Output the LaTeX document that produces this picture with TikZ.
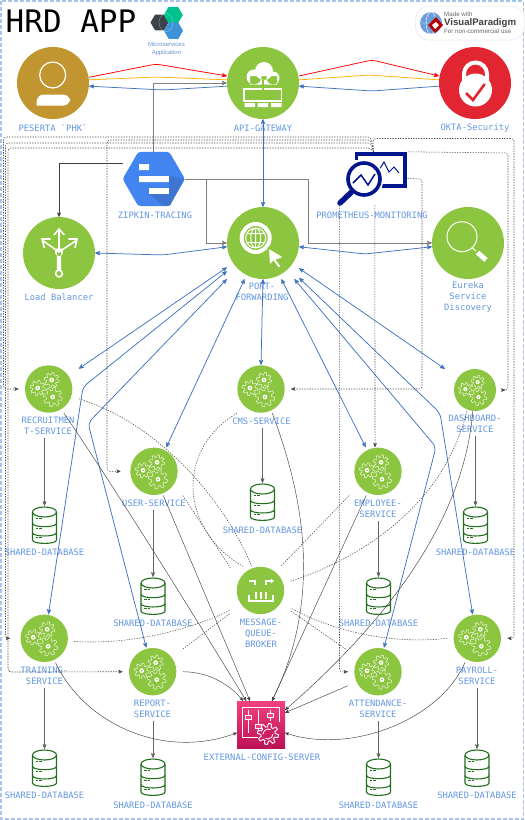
\documentclass[tikz,border=0pt]{standalone}
\usepackage{fontspec}
\setmainfont{Liberation Sans}
\setmonofont{DejaVu Sans Mono}
\usepackage{tikz}
\usetikzlibrary{arrows,positioning,shapes.geometric}
\definecolor{appgreen}{HTML}{8CC53F}
\definecolor{phkgold}{HTML}{C1952F}
\definecolor{oktared}{HTML}{E12632}
\definecolor{zipblue}{HTML}{4285F0}
\definecolor{zipdark}{HTML}{3F74D0}
\definecolor{promnavy}{HTML}{02148E}
\definecolor{labelblue}{HTML}{6296E2}
\definecolor{pilblue}{HTML}{4073C0}
\definecolor{dbgreen}{HTML}{236F1E}
\definecolor{cfgtop}{HTML}{F3417F}
\definecolor{cfgbot}{HTML}{BC1256}
\definecolor{pageedge}{HTML}{A6C4EE}
\tikzset{
    %Define standard arrow tip
    >=stealth',
    %Define style for icon nodes
    bigdisc/.style={
           rectangle,
           inner sep=0pt,
           minimum size=72pt,
           path picture={\fill[#1] (path picture bounding box.center) circle (36pt);}},
    svc/.style={
           rectangle,
           inner sep=0pt,
           minimum width=60pt,
           minimum height=48pt,
           path picture={\fill[appgreen] (path picture bounding box.center) circle (23.7pt);}},
    svcsmall/.style={
           svc,
           minimum height=42pt,
           path picture={\fill[appgreen] (path picture bounding box.center) circle (21pt);}},
    dbnode/.style={
           rectangle,
           inner sep=0pt,
           minimum width=26pt,
           minimum height=38pt},
    lab/.style={
           font=\ttfamily\fontsize{8.8}{11}\selectfont,
           text=labelblue,
           align=center,
           inner sep=3pt},
    % Define arrow styles
    bluepil/.style={<->,draw=pilblue,line width=.75pt,rounded corners=5pt},
    darkpil/.style={->,draw=black!75,line width=.45pt},
    dbpil/.style={->,draw=black!60,line width=.7pt},
    dotpil/.style={draw=black!70,line width=.55pt,dash pattern=on 1.3pt off 1.3pt},
    zippil/.style={->,draw=black!50,line width=.8pt},
    %Define icon pics
    gearicon/.pic={
        \foreach \gx/\gy/\gr in {-11/-1/7.6,3/-9/7.6,4/8/9.6}{
            \draw[white,line width=.4pt,shift={(\gx,\gy)}] plot[domain=0:360,samples=97,variable=\t]
                (\t:{\gr*(.84+.16*sign(sin(8*\t)))});
            \fill[white,shift={(\gx,\gy)}] (0,0) circle (2.4);
            \fill[appgreen,shift={(\gx,\gy)}] (0,0) circle (.9);
        }
    },
    dbicon/.pic={
        \draw[dbgreen,line width=1.1pt] (0,-13) ellipse (12 and 5);
        \draw[dbgreen,line width=1.1pt] (-12,-13) -- (-12,15) .. controls (-12,19.5) and (12,19.5) .. (12,15) -- (12,-13);
        \foreach \sy in {-1.7,7.6}
            \draw[dbgreen,line width=1.1pt] (-12,\sy) .. controls (-12,\sy+4.5) and (12,\sy+4.5) .. (12,\sy);
        \foreach \sy in {-6.7,3,12.7}
            \draw[dbgreen,line width=1pt,dash pattern=on 2.6pt off 1pt] (-9,\sy) -- (-2.5,\sy);
    }
}
\begin{document}
\begin{tikzpicture}[x=1pt,y=-1pt]
\useasboundingbox (0,0) rectangle (525,820);
\draw[pageedge,line width=1.1pt,dash pattern=on 4pt off 2pt] (1,1) rectangle (523.5,819);

 %title and badges
\node[font=\ttfamily\fontsize{31}{31}\selectfont,inner sep=0pt] (title) at (71,21) {HRD APP};
\node[regular polygon,regular polygon sides=6,minimum size=18pt,inner sep=0pt,fill=black!70!cyan!60!black] (hexdark) at (159.5,22.5) {};
\node[regular polygon,regular polygon sides=6,minimum size=19pt,inner sep=0pt,fill=teal!60!cyan!80!green] (hexteal) at (173.3,15) {};
\node[regular polygon,regular polygon sides=6,minimum size=19pt,inner sep=0pt,fill=cyan!65!blue!80] (hexblue) at (173.5,30.7) {};
\draw[white,opacity=.5,line width=.3pt] (166,22.5) ellipse (7 and 9);
\node[font=\fontsize{6}{8}\selectfont,text=labelblue!80!gray,align=center,inner sep=0pt] (msapp) at (166.5,49) {Microservices\\Application};

\node[rectangle,rounded corners=14pt,draw=black!6,line width=1pt,fill=white,minimum width=109pt,minimum height=34pt] (vpbadge) at (470,23) {};
\fill[cyan!55!blue!60] (431,23) circle (11);
\draw[white,line width=.4pt] (431,23) ellipse (5 and 11) (420,23) -- (442,23);
\fill[red!70!black] (436,17) -- (443,25) -- (435,33) -- (428,25) -- cycle;
\fill[white] (436,22) -- (439,25) -- (435,29) -- (432,25) -- cycle;
\node[font=\fontsize{6.2}{7}\selectfont,text=black!60,anchor=west,inner sep=0pt] (vpmade) at (444,14.5) {Made with};
\node[font=\bfseries\fontsize{9.6}{11}\selectfont,text=black!75,anchor=west,inner sep=0pt] (vpname) at (444,22.7) {VisualParadigm};
\node[font=\fontsize{6.2}{7}\selectfont,text=black!60,anchor=west,inner sep=0pt] (vpuse) at (444,31) {For non-commercial use};

 %nodes
\node[bigdisc=phkgold] (peserta) at (53,83) {};
\node[bigdisc=appgreen] (gateway) at (263,83) {};
\node[bigdisc=oktared] (okta) at (475,83) {};
\node[regular polygon,regular polygon sides=6,minimum size=62.4pt,inner sep=0pt,rounded corners=2.5pt,fill=zipblue] (zipkin) at (153.8,179) {};
\node[rectangle,inner sep=0pt,minimum width=68pt,minimum height=53pt] (prom) at (373.5,178.5) {};
\node[bigdisc=appgreen] (balancer) at (59,253) {};
\node[bigdisc=appgreen] (port) at (263,243) {};
\node[bigdisc=appgreen] (eureka) at (468,243) {};

\node[svc] (recruit) at (48.7,389) {};
\node[svc] (cms) at (261,389) {};
\node[svcsmall] (dashboard) at (475,390) {};
\node[svc] (user) at (154,471.3) {};
\node[svc] (employee) at (378,471.3) {};
\node[svc] (broker) at (260.5,590.5) {};
\node[svc] (training) at (44.2,638.3) {};
\node[svc] (report) at (152.7,671.7) {};
\node[svc] (attendance) at (378,671.7) {};
\node[svc] (payroll) at (477.3,638.3) {};
\node[rectangle,inner sep=0pt,minimum width=48pt,minimum height=47pt,top color=cfgtop,bottom color=cfgbot] (config) at (261,724.5) {};

\node[dbnode] (db1) at (44.5,525) {};
\node[dbnode] (db2) at (153,596) {};
\node[dbnode] (db3) at (262.5,502) {};
\node[dbnode] (db4) at (378.5,596) {};
\node[dbnode] (db5) at (475.5,525) {};
\node[dbnode] (db6) at (44.5,768) {};
\node[dbnode] (db7) at (153,777) {};
\node[dbnode] (db8) at (378.5,777) {};
\node[dbnode] (db9) at (477,768) {};
\foreach \d in {db1,db2,db3,db4,db5,db6,db7,db8,db9}
    \pic at (\d) {dbicon};
\foreach \s in {recruit,cms,user,employee,training,report,attendance,payroll}
    \pic at (\s) {gearicon};
\pic[scale=.88] at (dashboard) {gearicon};

 %labels
\node[lab] (pesertalab) at (53,128) {PESERTA `PHK`};
\node[lab] (gatewaylab) at (263,128) {API-GATEWAY};
\node[lab] (oktalab) at (475,128) {OKTA-Security};
\node[lab] (zipkinlab) at (155,215) {ZIPKIN-TRACING};
\node[lab] (promlab) at (372,215) {PROMETHEUS-MONITORING};
\node[lab] (balancerlab) at (59,297) {Load Balancer};
\node[lab] (portlab) at (262,292) {PORT-\\FORWARDING};
\node[lab] (eurekalab) at (468,297) {Eureka\\Service\\Discovery};
\node[lab] (recruitlab) at (48,426) {RECRUITMEN\\T-SERVICE};
\node[lab] (cmslab) at (261.5,421) {CMS-SERVICE};
\node[lab] (dashboardlab) at (475,424) {DASHBOARD-\\SERVICE};
\node[lab] (userlab) at (154,503) {USER-SERVICE};
\node[lab] (employeelab) at (378,509) {EMPLOYEE-\\SERVICE};
\node[lab] (brokerlab) at (261,633.5) {MESSAGE-\\QUEUE-\\BROKER};
\node[lab] (traininglab) at (44.5,675.5) {TRAINING-\\SERVICE};
\node[lab] (reportlab) at (152.5,708.5) {REPORT-\\SERVICE};
\node[lab] (attendancelab) at (378,708.5) {ATTENDANCE-\\SERVICE};
\node[lab] (payrolllab) at (477,675.5) {PAYROLL-\\SERVICE};
\node[lab] (configlab) at (262,757) {EXTERNAL-CONFIG-SERVER};
\node[lab] (dblab1) at (44.5,552) {SHARED-DATABASE};
\node[lab] (dblab2) at (153,623) {SHARED-DATABASE};
\node[lab] (dblab3) at (262.5,530) {SHARED-DATABASE};
\node[lab] (dblab4) at (378.5,623) {SHARED-DATABASE};
\node[lab] (dblab5) at (475.5,552) {SHARED-DATABASE};
\node[lab] (dblab6) at (44.5,795) {SHARED-DATABASE};
\node[lab] (dblab7) at (153,805) {SHARED-DATABASE};
\node[lab] (dblab8) at (378.5,805) {SHARED-DATABASE};
\node[lab] (dblab9) at (477,795) {SHARED-DATABASE};

 %icons
\draw[white,line width=1.2pt] (52.7,75) circle (13);
\fill[white,rounded corners=7pt] (36.7,105.7) -- (36.7,94.5) -- (70,94.5) -- (70,105.7) [sharp corners] -- cycle;

\fill[white] (254,77) circle (7.5) (264,71) circle (9) (273,78) circle (6.5) (250,76) rectangle (277,84.5);
\draw[white,line width=1.8pt] (244,89) rectangle (281.5,101);
\fill[white] (244.5,103) rectangle (255,107) (257.5,103) rectangle (268,107) (271,103) rectangle (281.5,107);
\draw[appgreen,line width=1.6pt] (263,80) -- (263,96) (257,90.5) -- (263,97) -- (269,90.5);

\draw[white,line width=4pt] (464,80) -- (464,74) arc (180:360:11.5) -- (487,80);
\fill[white] (475.5,90) circle (16.5);
\draw[oktared,line width=2.6pt] (466,93) -- (473,100) -- (484.7,84);

\fill[white] (139,164) rectangle (149,170) (139,176) rectangle (169,182) (149,188) rectangle (169,194);
\fill[zipdark] (169,182) -- (169,176) -- (184,179) -- (170,205.5) -- (163,205.5) -- (149,194) -- (169,194) -- cycle;

\draw[promnavy,line width=3.6pt] (356.5,160) -- (356.5,154) -- (405,154) -- (405,186) -- (382,186);
\draw[promnavy,line width=1pt] (379,170) -- (384,162) -- (389,172) -- (394,167) -- (399,173);
\draw[white,line width=5pt] (364,179) circle (17);
\draw[promnavy,line width=3.6pt] (364,179) circle (16);
\draw[promnavy,line width=1.5pt] (353,183) -- (361,175) -- (368,185) -- (375,174);
\draw[promnavy,line width=5.5pt,line cap=round] (351,192.5) -- (340,203);

\fill[white] (59,252) circle (4.2) (56.8,252) rectangle (61.2,270);
\draw[white,line width=1.6pt] (59,273.5) circle (3.4) (59,252) -- (59,229) (54,235) -- (59,229) -- (64.3,235)
    (59,252) -- (42,240) (50.7,239) -- (42,239) -- (44.3,248) (59,252) -- (77,240) (68.3,239) -- (77,239) -- (75,248);

\draw[white,line width=4pt] (255.7,238) circle (14);
\draw[white,line width=1pt] (255.7,238) circle (10) (255.7,238) ellipse (5 and 10) (255.7,228) -- (255.7,248)
    (246.5,233.5) -- (265,233.5) (246.5,242.5) -- (265,242.5);
\filldraw[fill=white,draw=appgreen,line width=1.4pt] (268.3,247.7) -- (284.3,257.3) -- (276.7,260) -- (281.7,266.7)
    -- (278.3,268.3) -- (273.3,261.7) -- (269.3,266) -- cycle;

\draw[white,line width=1pt] (462,236.7) circle (15);
\draw[white,line width=1pt] (472.5,248) -- (476,251);
\draw[white,line width=5pt] (477.5,252.5) -- (486,260);

\draw[white,line width=1.5pt] (249,581) -- (255,581) -- (255,585) (266,585) -- (266,581) -- (271,581)
    (249,595) -- (249,601) -- (273,601) -- (273,595);
\fill[white] (271,578.5) -- (274,581) -- (271,583.5) -- cycle;
\draw[white,line width=1.7pt] (255.7,592) -- (255.7,599) (260.7,592) -- (260.7,599) (265.7,592) -- (265.7,599);

\draw[white,line width=.9pt] (258,737) -- (242,737) -- (242,707) -- (279,707) -- (279,722);
\draw[white,line width=.8pt] (248,710) -- (248,733) (258,710) -- (258,733) (270,710) -- (270,721);
\filldraw[fill=cfgtop,draw=white,line width=.7pt] (245,715) rectangle (251,719) (255,724) rectangle (261,728) (267,713) rectangle (273,717);
\begin{scope}[shift={(268,734)}]
\filldraw[fill=cfgbot!70!cfgtop,draw=white,line width=.9pt] plot[domain=0:360,samples=97,variable=\t] (\t:{10.5*(.84+.16*sign(sin(8*\t)))});
\draw[white,line width=.8pt] (-5,0) arc (180:300:5);
\draw[white,line width=.8pt] (5,0) arc (0:120:5);
\end{scope}

 %login lines
\draw[->,red,line width=.75pt,rounded corners=4pt] (peserta.9) -- (156,64) -- (gateway.169);
\draw[draw=orange!60!yellow,line width=.75pt,rounded corners=4pt] (peserta.5) -- (157,77) -- (gateway.175);
\draw[bluepil,-,<-] (peserta.-5) -- (163,90) -- (gateway.185);
\draw[->,red,line width=.75pt,rounded corners=4pt] (gateway.11) -- (372,60) -- (okta.169);
\draw[draw=orange!60!yellow,line width=.75pt,rounded corners=4pt] (gateway.5) -- (369,75) -- (okta.175);
\draw[bluepil,-,<-] (gateway.-5) -- (372,91) -- (okta.185);

 %tracing lines
\coordinate (zipkinleft) at (123,163);
\draw[zippil] (zipkin.north) -- (153.8,83) -- (gateway.west);
\draw[darkpil,line width=.6pt] (zipkinleft) -- (59,163) -- (balancer.north);
\draw[zippil] (zipkin.east) -- (206,179) -- (206,243) -- (port.west);
\draw[zippil] (zipkin.east) -- (308.7,179) -- (308.7,243) -- (eureka.west);

 %port forwarding lines
\draw[bluepil] (gateway.south) -- (port.north);
\draw[bluepil] (port.186) -- (163,255) -- (balancer.east);
\draw[bluepil] (port.-6) -- (365,254) -- (eureka.186);
\path[every edge/.style=bluepil]
    (port.214) edge (recruit.34)
    (port.243) edge (user.63)
    (port.south) edge (cms.north)
    (port.-63) edge (employee.117)
    (port.-35) edge (dashboard.north west);
\draw[bluepil] (port.218) -- (83,387) -- (training.80);
\draw[bluepil] (port.225) -- (88,423) -- (report.105);
\draw[bluepil] (port.-49) -- (436,447) -- (attendance.76);
\draw[bluepil] (port.-44) -- (440,413) -- (payroll.101);

 %database lines
\path[every edge/.style=dbpil]
    (recruitlab.south -| db1) edge (db1.north)
    (userlab.south -| db2) edge (db2.north)
    (cmslab.south -| db3) edge (db3.north)
    (employeelab.south -| db4) edge (db4.north)
    (dashboardlab.south -| db5) edge (db5.north)
    (traininglab.south -| db6) edge (db6.north)
    (reportlab.south -| db7) edge (db7.north)
    (attendancelab.south -| db8) edge (db8.north)
    (payrolllab.south -| db9) edge (db9.north);

 %config lines
\draw[darkpil] (recruit.-58) .. controls (110,480) and (200,625) .. (config.122);
\draw[darkpil] (user.-69) -- (config.115);
\draw[darkpil] (report.east) .. controls (210,672) and (230,685) .. (config.127);
\draw[darkpil] (training.-65) .. controls (85,725) and (165,760) .. (config.199);
\draw[darkpil] (cms.-65) .. controls (305,500) and (322,600) .. (config.65);
\draw[darkpil] (employee.-116) -- (config.65);
\draw[darkpil] (dashboard.-96) .. controls (465,510) and (400,610) .. (config.31);
\draw[darkpil] (attendance.205) -- (config.26);
\draw[darkpil] (payroll.-117) .. controls (440,720) and (350,755) .. (config.-19);

 %broker lines
\draw[dotpil] (recruit.-18) .. controls (150,420) and (220,490) .. (broker.110);
\draw[dotpil] (cms.-135) .. controls (175,450) and (180,530) .. (broker.126);
\draw[dotpil] (user.-40) -- (broker.143);
\draw[dotpil] (employee.-140) -- (broker.50);
\draw[dotpil] (dashboard.-111) .. controls (445,500) and (370,555) .. (broker.17);
\draw[dotpil] (training.-6) .. controls (130,645) and (190,630) .. (broker.213);
\draw[dotpil] (report.37) -- (broker.217);
\draw[dotpil] (attendance.145) -- (broker.-34);
\draw[dotpil] (payroll.west) .. controls (390,645) and (330,630) .. (broker.-30);

 %monitoring lines
\coordinate (trainingleft) at (10,638.3);
\coordinate (userleft) at (120.5,471.3);
\draw[dotpil,->,rounded corners=3pt] (prom.north) -- (371,137) -- (3.5,137) -- (3.5,389) -- (recruit.west);
\draw[dotpil,->,rounded corners=3pt] (prom.north) -- (371,140) -- (107,140) -- (107,471.3) -- (userleft);
\draw[dotpil,->,rounded corners=3pt] (prom.north) -- (371,143) -- (5.5,143) -- (5.5,638.3) -- (trainingleft);
\draw[dotpil,->,rounded corners=3pt] (prom.north) -- (371,148) -- (8,148) -- (8,672) -- (report.west);
\draw[dotpil,->,rounded corners=3pt] (prom.north) -- (373,138.5) -- (514,138.5) -- (514,638.3) -- (payroll.east);
\draw[dotpil,->,rounded corners=3pt] (prom.north east) -- (508,153) -- (508,390) -- (dashboard.east);
\draw[dotpil,->,rounded corners=3pt] (prom.east) -- (422,179) -- (422,389) -- (cms.east);
\draw[dotpil,->] (prom.-87) -- (employee.97);
\draw[dotpil,->,rounded corners=3pt] (prom.south west) -- (339.5,672) -- (attendance.west);

\end{tikzpicture}
\end{document}
